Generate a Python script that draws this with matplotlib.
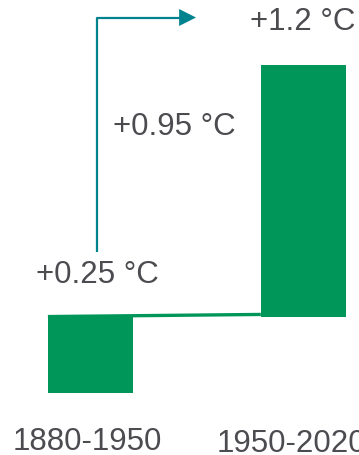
import matplotlib
matplotlib.use("Agg")
import matplotlib.pyplot as plt
from matplotlib.patches import Polygon

# data
periods = ["1880-1950", "1950-2020"]
bar_start = [-0.04, 0.25]
bar_end = [0.25, 1.2]
value_labels = ["+0.25 °C", "+0.95 °C", "+1.2 °C"]

green = "#00965A"
teal = "#00828F"
grey = "#4B4B50"

plt.rcParams["font.family"] = ["Liberation Sans", "DejaVu Sans"]

fig = plt.figure(figsize=(3.59, 4.55), dpi=100)
ax = fig.add_axes([0, 0, 1, 1])
ax.set_xlim(-0.425, 1.261)
ax.set_ylim(-0.273, 1.446)
ax.axis("off")

x = [0, 1]
w = 0.4
heights = [e - s for s, e in zip(bar_start, bar_end)]
ax.bar(x, heights, bottom=bar_start, width=w, color=green, linewidth=0)

# connector from top of first bar to foot of second
ax.plot([x[0] - w / 2, x[1] - w / 2], [bar_end[0], bar_start[1] + 0.008],
        color=green, lw=2.4, solid_capstyle="butt")

# elbow arrow (axes fraction)
ax.plot([0.270, 0.270, 0.50], [0.446, 0.9615, 0.9615], color=teal, lw=1.6,
        transform=ax.transAxes, solid_capstyle="butt")
ax.add_patch(Polygon([(0.499, 0.9802), (0.499, 0.9429), (0.546, 0.9615)],
                     closed=True, color=teal, transform=ax.transAxes, lw=0))

fs = 22.5
ax.text(302.5 / 359, 1 - 30 / 455, value_labels[2], transform=ax.transAxes,
        ha="center", va="baseline", fontsize=fs, color=grey)
ax.text(174.5 / 359, 1 - 135 / 455, value_labels[1], transform=ax.transAxes,
        ha="center", va="baseline", fontsize=fs, color=grey)
ax.text(97.5 / 359, 1 - 283 / 455, value_labels[0], transform=ax.transAxes,
        ha="center", va="baseline", fontsize=fs, color=grey)

ax.text(87 / 359, 1 - 450 / 455, periods[0], transform=ax.transAxes,
        ha="center", va="baseline", fontsize=fs, color=grey)
ax.text(217 / 359, 1 - 452 / 455, periods[1], transform=ax.transAxes,
        ha="left", va="baseline", fontsize=fs, color=grey)

fig.savefig("out.png", dpi=100)
